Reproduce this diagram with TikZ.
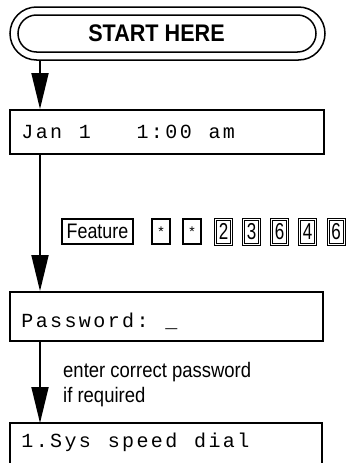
\documentclass[tikz,border=0pt]{standalone}
\usepackage{fontspec}
\setmainfont{Liberation Sans}
\newfontfamily\lcdfont{Liberation Mono}
\usetikzlibrary{shapes.misc,arrows.meta}
\makeatletter
\newcommand\lcdline[1]{\@tfor\lcd@c:=#1\do{\makebox[14.4pt][c]{\lcd@c}}}
\makeatother
\tikzset{
  lcdbox/.style={draw, line width=1.8pt, rectangle, inner sep=0pt},
  lcdtxt/.style={anchor=base west, inner sep=0pt, font=\lcdfont\fontsize{20}{20}\selectfont},
  flow/.style={line width=1.8pt, -{Triangle[length=36pt,width=17pt]}},
  keybox/.style={draw, line width=1.3pt, rectangle, inner sep=0pt, minimum height=25pt},
  digitkey/.style={keybox, double=white, double distance=0.8pt, line width=1.1pt, minimum width=16pt, font=\fontsize{23}{23}\selectfont},
  starkey/.style={keybox, minimum width=18pt, font=\fontsize{14}{14}\selectfont},
  note/.style={anchor=base west, inner sep=0pt, font=\fontsize{21}{21}\selectfont},
}
\begin{document}
\begin{tikzpicture}[x=1pt,y=-1pt]
\useasboundingbox[fill=white] (0,0) rectangle (350,463);
% start terminal
\node[draw, rounded rectangle, line width=1.5pt, minimum width=315pt, minimum height=53pt, inner sep=0pt] (startout) at (167.5,33.5) {};
\node[draw, rounded rectangle, line width=1.5pt, minimum width=298pt, minimum height=37pt, inner sep=0pt] (startin) at (167,33.5) {};
\node[inner sep=0pt, font=\bfseries\fontsize{24}{24}\selectfont] (starttxt) at (156.5,33) {\scalebox{0.9}[1]{START HERE}};
% displays
\node[lcdbox, minimum width=314pt, minimum height=44pt] (jan) at (167,132) {};
\node[lcdtxt] (jantxt) at (20,138) {\lcdline{Jan~1~~~1:00~am}};
\node[lcdbox, minimum width=313pt, minimum height=49pt] (pwd) at (166.5,316.5) {};
\node[lcdtxt] (pwdtxt) at (20,327) {\lcdline{Password:~\_}};
\coordinate (sysnw) at (10,423);
\coordinate (sysne) at (322,423);
\coordinate (syssw) at (10,470);
\coordinate (sysse) at (322,470);
\draw[line width=1.8pt] (syssw) -- (sysnw) -- (sysne) -- (sysse);
\node[lcdtxt] (systxt) at (20,447) {\lcdline{1.Sys~speed~dial}};
% arrows
\coordinate (ax) at (40,0);
\draw[flow] (ax |- startout.south) -- (ax |- jan.north);
\draw[flow] (ax |- jan.south) -- (ax |- pwd.north);
\draw[flow] (ax |- pwd.south) -- (ax |- sysnw);
% keys
\node[keybox, minimum width=71pt, font=\fontsize{21}{21}\selectfont] (kfeat) at (97.5,231.5) {\scalebox{0.85}[1]{Feature}};
\node[starkey] (kst1) at (161,231.5) {*};
\node[starkey] (kst2) at (192,231.5) {*};
\node[digitkey] (k2) at (223.5,231.5) {\scalebox{0.74}[1]{2}};
\node[digitkey] (k3) at (251.5,231.5) {\scalebox{0.74}[1]{3}};
\node[digitkey] (k6a) at (279.5,231.5) {\scalebox{0.74}[1]{6}};
\node[digitkey] (k4) at (307.5,231.5) {\scalebox{0.74}[1]{4}};
\node[digitkey] (k6b) at (336,231.5) {\scalebox{0.74}[1]{6}};
% note
\node[note] (note1) at (63,377) {\scalebox{0.88}[1]{enter correct password}};
\node[note] (note2) at (63,402) {\scalebox{0.88}[1]{if required}};
\end{tikzpicture}
\end{document}
